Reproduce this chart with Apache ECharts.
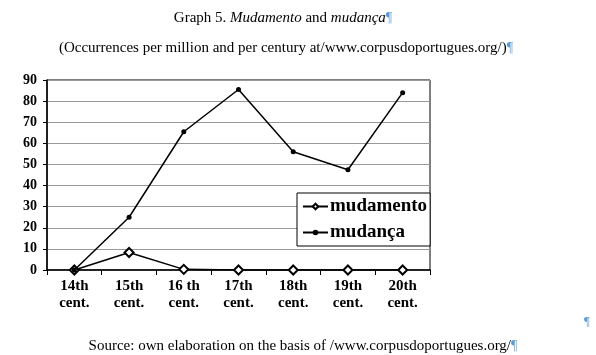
<!DOCTYPE html>
<html><head><meta charset="utf-8">
<script src="https://cdn.jsdelivr.net/npm/echarts@6/dist/echarts.min.js"></script>
<style>html,body{margin:0;padding:0;background:#fff}#c{width:596px;height:355px}</style>
</head><body><div id="c"></div>
<script>
const categories = ['14th\ncent.', '15th\ncent.', '16 th\ncent.', '17th\ncent.', '18th\ncent.', '19th\ncent.', '20th\ncent.'];
const mudamento = [0, 8.3, 0.3, 0, 0, 0, 0];
const mudanca = [0, 25, 65.5, 85.5, 56, 47.5, 84];
const yTicks = {min: 0, max: 90, interval: 10};

const serif = '"Liberation Serif", "Times New Roman", serif';
const blue = '#5b9bd5';
const chart = echarts.init(document.getElementById('c'), null, {renderer: 'canvas'});
chart.setOption({
  animation: false,
  backgroundColor: '#fff',
  textStyle: {fontFamily: serif},
  title: [
    {text: 'Graph 5. {i|Mudamento} and {i|mudança}{p|¶}', left: 278, top: 6, textAlign: 'center',
     textStyle: {fontFamily: serif, fontSize: 15, fontWeight: 'normal', color: '#000',
       rich: {i: {fontFamily: serif, fontSize: 15, fontStyle: 'italic', color: '#000'},
              p: {fontFamily: serif, fontSize: 14, color: blue}}}},
    {text: '(Occurrences per million and per century at/www.corpusdoportugues.org/){p|¶}', left: 281, top: 36, textAlign: 'center',
     textStyle: {fontFamily: serif, fontSize: 15, fontWeight: 'normal', color: '#000',
       rich: {p: {fontFamily: serif, fontSize: 14, color: blue}}}},
    {text: 'Source: own elaboration on the basis of /www.corpusdoportugues.org/{p|¶}', left: 298, top: 334, textAlign: 'center',
     textStyle: {fontFamily: serif, fontSize: 15, fontWeight: 'normal', color: '#000',
       rich: {p: {fontFamily: serif, fontSize: 14, color: blue}}}},
    {text: '¶', left: 579, top: 310, textStyle: {fontFamily: serif, fontSize: 13, fontWeight: 'normal', color: blue}}
  ],
  grid: {left: 47, right: 166, top: 80, bottom: 85, show: true, borderColor: '#000', borderWidth: 1, backgroundColor: 'transparent'},
  legend: {
    orient: 'vertical', left: 297, top: 193,
    backgroundColor: '#fff', borderColor: '#000', borderWidth: 1,
    padding: [4, 3, 4, 5], itemGap: 7, itemWidth: 25, itemHeight: 7,
    textStyle: {fontFamily: serif, fontSize: 19, fontWeight: 'bold', color: '#000', padding: [0, 0, 0, -3]},
    data: ['mudamento', 'mudança']
  },
  xAxis: {
    type: 'category', data: categories, boundaryGap: true,
    axisLine: {lineStyle: {color: '#000', width: 1.5}},
    axisTick: {show: true, length: 5, lineStyle: {color: '#000'}},
    axisLabel: {fontFamily: serif, fontSize: 15, fontWeight: 'bold', color: '#000', lineHeight: 17, margin: 8, interval: 0},
    splitLine: {show: false}
  },
  yAxis: {
    type: 'value', min: yTicks.min, max: yTicks.max, interval: yTicks.interval,
    axisLine: {show: true, lineStyle: {color: '#000', width: 1.5}},
    axisTick: {show: true, length: 4, lineStyle: {color: '#000'}},
    axisLabel: {fontFamily: serif, fontSize: 14, fontWeight: 'bold', color: '#000', margin: 10},
    splitLine: {show: true, lineStyle: {color: '#999', width: 1}}
  },
  series: [
    {name: 'mudamento', type: 'line', data: mudamento, symbol: 'emptyDiamond', symbolSize: 9,
     itemStyle: {color: '#000', borderColor: '#000', borderWidth: 1}, lineStyle: {color: '#000', width: 1.5}, z: 3},
    {name: 'mudança', type: 'line', data: mudanca, symbol: 'circle', symbolSize: 5,
     itemStyle: {color: '#000'}, lineStyle: {color: '#000', width: 1.5}, z: 4}
  ]
});
</script></body></html>
